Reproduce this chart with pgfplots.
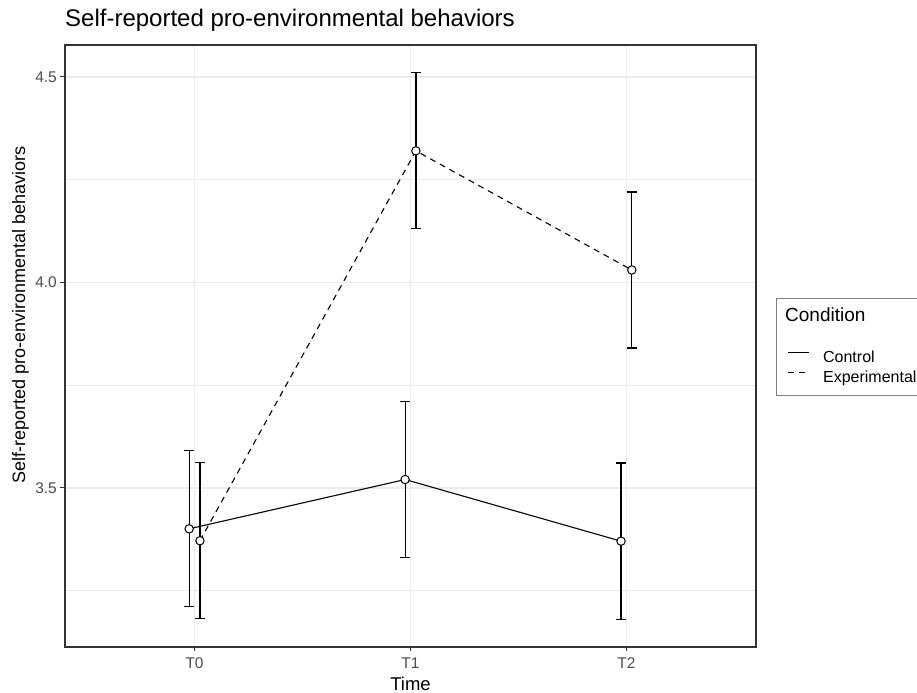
\documentclass[border=0pt]{standalone}
\usepackage{pgfplots}
\pgfplotsset{compat=1.18}
\usepackage{fontspec}
\setmainfont{Liberation Sans}
\definecolor{gridc}{HTML}{EBEBEB}
\definecolor{tickc}{HTML}{4D4D4D}
\definecolor{framec}{HTML}{333333}
\definecolor{legframe}{HTML}{7F7F7F}
\begin{document}
\begin{tikzpicture}
\useasboundingbox (0,0) rectangle (917bp,693bp);
\clip (0,0) rectangle (917bp,693bp);
\begin{axis}[
  at={(65bp,46bp)}, anchor=south west,
  scale only axis, width=691bp, height=602bp,
  xmin=-0.6, xmax=2.6, ymin=3.1124, ymax=4.5776,
  xtick={0,1,2}, xticklabels={T0,T1,T2},
  ytick={3.5,4.0,4.5}, yticklabels={3.5,4.0,4.5},
  minor ytick={3.25,3.75,4.25},
  grid=both,
  major grid style={draw=gridc, line width=1.6bp},
  minor grid style={draw=gridc, line width=0.8bp},
  tick align=outside, tick pos=left,
  major tick length=4.5bp, minor tick length=0pt,
  every tick/.style={draw=framec, line width=1.2bp},
  axis line style={draw=framec, line width=1.3bp},
  ticklabel style={font=\fontsize{15.5bp}{18bp}\selectfont, text=tickc, inner sep=0pt},
  xticklabel style={anchor=north, yshift=-6bp},
  yticklabel style={anchor=east, xshift=-3.5bp},
  title={Self-reported pro-environmental behaviors},
  title style={at={(axis description cs:0,1.0216)}, anchor=base west, inner sep=0pt, font=\fontsize{24bp}{28bp}\selectfont},
  xlabel={Time},
  xlabel style={at={(axis description cs:0.5,-0.0495)}, anchor=north, inner sep=0pt, font=\fontsize{18.5bp}{22bp}\selectfont},
  ylabel={Self-reported pro-environmental behaviors},
  ylabel style={at={(axis description cs:-0.0767,0.5515)}, anchor=north, inner sep=0pt, font=\fontsize{18bp}{22bp}\selectfont},
  legend style={at={(axis description cs:1.0449,0.4922)}, anchor=north west, draw=none, fill=none, inner sep=0pt, outer sep=0pt, row sep=4bp, column sep=14bp, font=\fontsize{16bp}{19bp}\selectfont, nodes={inner sep=0pt, text height=12bp, text depth=4bp}},
  legend cell align=left,
  legend image code/.code={\draw[#1] (0bp,5.8bp) -- (21bp,5.8bp);},
]
% Control
\addplot[black, line width=1.1bp, forget plot,
  error bars/.cd, y dir=both, y explicit,
  error bar style={line width=1.2bp, black, solid},
  error mark options={rotate=90, line width=1.2bp, mark size=5bp, black, solid}]
  coordinates {(-0.025,3.40) +- (0,0.19) (0.975,3.52) +- (0,0.19) (1.975,3.37) +- (0,0.19)};
% Experimental
\addplot[black, line width=1.1bp, dash pattern=on 6bp off 5bp, forget plot,
  error bars/.cd, y dir=both, y explicit,
  error bar style={line width=1.2bp, black, solid},
  error mark options={rotate=90, line width=1.2bp, mark size=5bp, black, solid}]
  coordinates {(0.025,3.371) +- (0,0.19) (1.025,4.32) +- (0,0.19) (2.025,4.03) +- (0,0.19)};
% points
\addplot[only marks, mark=*, mark size=4.2bp, mark options={fill=white, draw=black, line width=1bp, solid}, forget plot]
  coordinates {(-0.025,3.40) (0.975,3.52) (1.975,3.37)};
\addplot[only marks, mark=*, mark size=4.2bp, mark options={fill=white, draw=black, line width=1bp, solid}, forget plot]
  coordinates {(0.025,3.371) (1.025,4.32) (2.025,4.03)};
\addlegendimage{black, line width=1.1bp}
\addlegendentry{Control}
\addlegendimage{black, line width=1.1bp, dash pattern=on 6bp off 5bp}
\addlegendentry{Experimental}
\end{axis}
\draw[legframe, line width=1bp] (776bp,297bp) rectangle (940bp,394bp);
\node[anchor=base west, inner sep=0pt, font=\fontsize{19bp}{22bp}\selectfont] at (785bp,371.4bp) {Condition};
\end{tikzpicture}
\end{document}
